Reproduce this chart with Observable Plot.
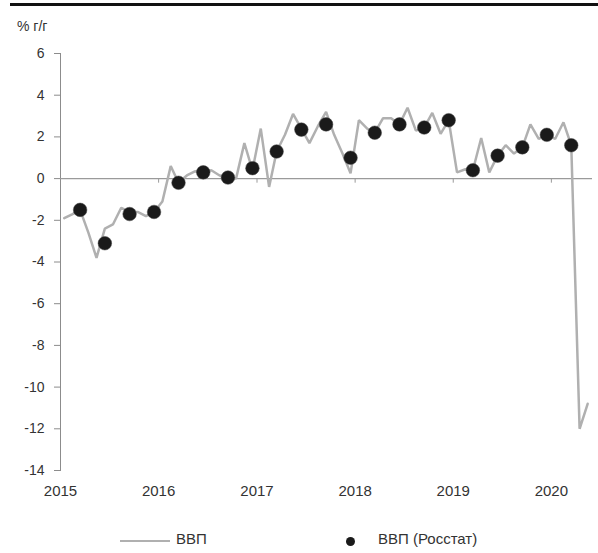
<!DOCTYPE html>
<html><head><meta charset="utf-8">
<script src="https://cdn.jsdelivr.net/npm/d3@7"></script>
<script src="https://cdn.jsdelivr.net/npm/@observablehq/plot@0.6"></script>
<style>
body{margin:0;background:#fff;font-family:"Liberation Sans",Arial,sans-serif;}
#wrap{position:relative;width:598px;height:553px;overflow:hidden;}
#topline{position:absolute;left:10px;width:588px;top:3px;height:3px;background:#111;}
#unit{position:absolute;left:17px;top:18px;font-size:14px;color:#333;}
#chart{position:absolute;left:0;top:40px;color:#333;}
.lg{position:absolute;font-size:15px;color:#333;top:530px;}
#lgLine{position:absolute;left:120px;top:540px;width:50px;height:2px;background:#b0b0b0;}
#lgDot{position:absolute;left:346px;top:537px;width:9px;height:9px;border-radius:50%;background:#1a1a1a;}
</style></head>
<body>
<div id="wrap">
  <div id="topline"></div>
  <div id="unit">% г/г</div>
  <div id="chart"></div>
  <div id="lgLine"></div><div class="lg" style="left:176px">ВВП</div>
  <div id="lgDot"></div><div class="lg" style="left:378px">ВВП (Росстат)</div>
</div>
<script>
// Monthly GDP estimate, % y/y
const years = [2015, 2016, 2017, 2018, 2019, 2020];
const gdp2015 = [-1.9, -1.7, -1.5, -2.6, -3.8, -2.4, -2.2, -1.4, -1.6, -1.6, -1.8, -1.6];
const gdp2016 = [-1.1, 0.6, -0.2, 0.15, 0.35, 0.3, 0.4, 0.15, 0.05, 0.0, 1.7, 0.4];
const gdp2017 = [2.4, -0.4, 1.3, 2.1, 3.1, 2.4, 1.7, 2.5, 3.2, 2.1, 1.2, 0.25];
const gdp2018 = [2.8, 2.4, 2.2, 2.9, 2.9, 2.6, 3.4, 2.3, 2.45, 3.15, 2.15, 2.8];
const gdp2019 = [0.3, 0.45, 0.4, 1.95, 0.3, 1.1, 1.6, 1.2, 1.5, 2.6, 1.9, 2.1];
const gdp2020 = [1.9, 2.7, 1.6, -12.0, -10.8];
// Rosstat quarterly GDP, % y/y (Q1..Q4)
const rosstat2015 = [-1.5, -3.1, -1.7, -1.6];
const rosstat2016 = [-0.2, 0.3, 0.05, 0.5];
const rosstat2017 = [1.3, 2.35, 2.6, 1.0];
const rosstat2018 = [2.2, 2.6, 2.45, 2.8];
const rosstat2019 = [0.4, 1.1, 1.5, 2.1];
const rosstat2020 = [1.6];
const yTicks = [6, 4, 2, 0, -2, -4, -6, -8, -10, -12, -14];

const monthlySeries = [gdp2015, gdp2016, gdp2017, gdp2018, gdp2019, gdp2020];
const quarterlySeries = [rosstat2015, rosstat2016, rosstat2017, rosstat2018, rosstat2019, rosstat2020];
const monthly = years.flatMap((y, i) => monthlySeries[i].map((v, m) => ({date: new Date(y, m, 15), value: v})));
const quarterly = years.flatMap((y, i) => quarterlySeries[i].map((v, q) => ({date: new Date(y, q * 3 + 2, 15), value: v})));
const yearDates = years.map(y => new Date(y, 0, 1));

const chart = Plot.plot({
  width: 598, height: 475,
  marginLeft: 60, marginRight: 6, marginTop: 13, marginBottom: 45,
  style: {fontFamily: "'Liberation Sans', Arial, sans-serif", color: "#333", background: "transparent"},
  x: {type: "time", domain: [new Date(2015, 0, 1), new Date(2020, 5, 2)]},
  y: {domain: [-14, 6]},
  marks: [
    Plot.frame({anchor: "left", stroke: "#8c8c8c"}),
    Plot.axisY({ticks: yTicks, tickSize: 6, tickPadding: 10, fontSize: 14, stroke: "#8c8c8c", label: null, tickFormat: d => d < 0 ? "-" + Math.abs(d) : String(d)}),
    Plot.ruleY([0], {stroke: "#9a9a9a", strokeWidth: 1.2}),
    Plot.ruleX(yearDates.slice(1), {y1: 0, y2: -0.22, stroke: "#9a9a9a"}),
    Plot.axisX({ticks: yearDates, tickSize: 0, tickPadding: 15, fontSize: 15, tickFormat: d3.timeFormat("%Y"), label: null}),
    Plot.line(monthly, {x: "date", y: "value", stroke: "#b0b0b0", strokeWidth: 2.5, strokeLinejoin: "miter"}),
    Plot.dot(quarterly, {x: "date", y: "value", r: 6.8, fill: "#1a1a1a", stroke: "#444", strokeWidth: 0.5})
  ]
});
document.getElementById("chart").appendChild(chart);
</script>
</body></html>
